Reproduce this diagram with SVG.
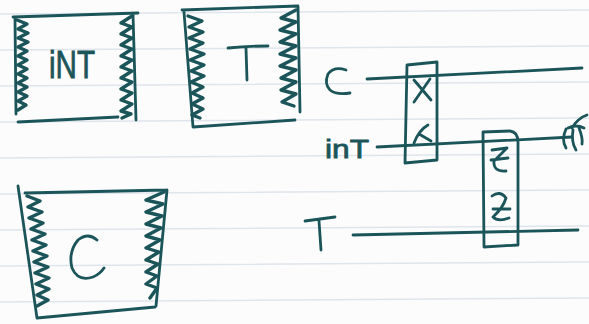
<svg xmlns="http://www.w3.org/2000/svg" width="589" height="324" viewBox="0 0 589 324">
<style>
.paper{stroke:#dfe5ec;stroke-width:1.5;fill:none}
.ink{stroke:#1b5559;stroke-width:2.8;fill:none;stroke-linecap:round;stroke-linejoin:round}
.hatch{stroke:#1b5559;stroke-width:3.4;fill:none;stroke-linejoin:round;stroke-linecap:round}
.lbl{fill:#1b5559;stroke:#1b5559;stroke-width:0.8;font-family:"Liberation Sans",Arial,sans-serif}
</style>
<rect width="589" height="324" fill="#fcfcfc"/>
<g id="paper">
<path class="paper" d="M0 14 L589 10 M0 50 L589 46 M0 86 L589 82 M0 122 L589 118 M0 158 L589 154 M0 194 L589 190 M0 230 L589 226 M0 266 L589 262 M0 302 L589 298"/>
</g>
<g id="box-int">
<path class="ink" d="M13 17 L138 13 M15 18 L16 114 M133 14 L136 120 M18 122 L118 117"/>
<polyline class="hatch" points="17,20 27,24 18,29 28,33 18,38 28,42 18,47 27,51 18,56 27,60 18,65 27,69 18,74 27,78 18,83 27,87 18,92 27,96 18,101 26,105 18,110"/>
<polyline class="hatch" points="132,16 121,23 132,27 121,34 132,38 121,45 132,49 121,56 132,60 121,67 132,71 121,78 132,82 121,89 132,93 121,100 132,104 121,111 131,114 122,118"/>
<text class="lbl" x="72" y="78" font-size="38" text-anchor="middle" textLength="46" lengthAdjust="spacingAndGlyphs">iNT</text>
</g>
<g id="box-T">
<path class="ink" d="M182 10 L298 6 M184 12 L193 127 M298 6 L300 112 M193 127 L295 120"/>
<polyline class="hatch" points="188,16 202,21 189,27 203,32 189,38 203,43 190,49 204,54 190,60 204,65 191,71 204,76 191,82 203,87 192,93 203,98 192,104 203,109 192,115 200,118"/>
<polyline class="hatch" points="296,10 281,18 296,22 280,30 296,34 280,42 296,46 280,54 296,58 280,66 296,70 281,78 296,82 281,90 296,94 282,102 294,106"/>
<path class="ink" d="M228 48 Q248 46 268 46 M246 48 L247 80"/>
</g>
<g id="box-C">
<path class="ink" d="M18 186 L37 318 M25 193 L167 190 M167 190 L156 306 M37 318 L155 307"/>
<polyline class="hatch" points="27,196 40,201 28,207 42,212 29,218 43,223 31,229 45,234 32,240 46,245 33,251 47,256 34,262 48,267 35,273 49,278 36,284 49,289 37,295 48,300 37,306"/>
<polyline class="hatch" points="164,192 146,200 163,204 146,212 162,216 146,224 161,228 146,236 160,240 146,248 159,252 146,260 158,264 146,272 157,276 146,284 157,288 150,298"/>
<path class="ink" d="M97 240 Q88 232 78 240 Q68 252 72 268 Q78 282 93 277 Q100 274 104 268"/>
</g>
<g id="labels">
<path class="ink" d="M346 70 Q334 66 328 74 Q324 84 330 90 Q336 95 350 93"/>
<text class="lbl" x="325" y="158" font-size="26" textLength="44" lengthAdjust="spacingAndGlyphs">inT</text>
<path class="ink" d="M305 221 Q320 219 335 217 M319 221 L321 250"/>
</g>
<g id="connectors">
<path class="ink" d="M367 79 L582 68"/>
<path class="ink" d="M377 147 L572 137"/>
<path class="ink" d="M353 235 L578 230"/>
<path class="ink" d="M587 115 Q578 118 572 128 M566 129 Q561 140 566 148 M573 130 Q571 142 576 150 M579 128 Q583 138 582 144 M568 128 Q576 124 584 128"/>
</g>
<g id="gate-X">
<path class="ink" d="M407 65 L437 62 L437 160 L405 163 Z"/>
<path class="ink" d="M414 80 L431 100 M430 79 L414 102"/>
<path class="ink" d="M414 143 Q419 130 428 125 M419 134 L431 141"/>
</g>
<g id="gate-Z">
<path class="ink" d="M483 132 L510 131 Q518 132 518 142 L518 245 L484 247 Z"/>
<path class="ink" d="M492 150 L507 148 L494 161 Q493 172 506 171 M491 160 L508 158"/>
<path class="ink" d="M492 196 Q500 190 506 198 Q503 208 493 217 Q498 222 509 218 M493 209 L510 209"/>
</g>
</svg>
